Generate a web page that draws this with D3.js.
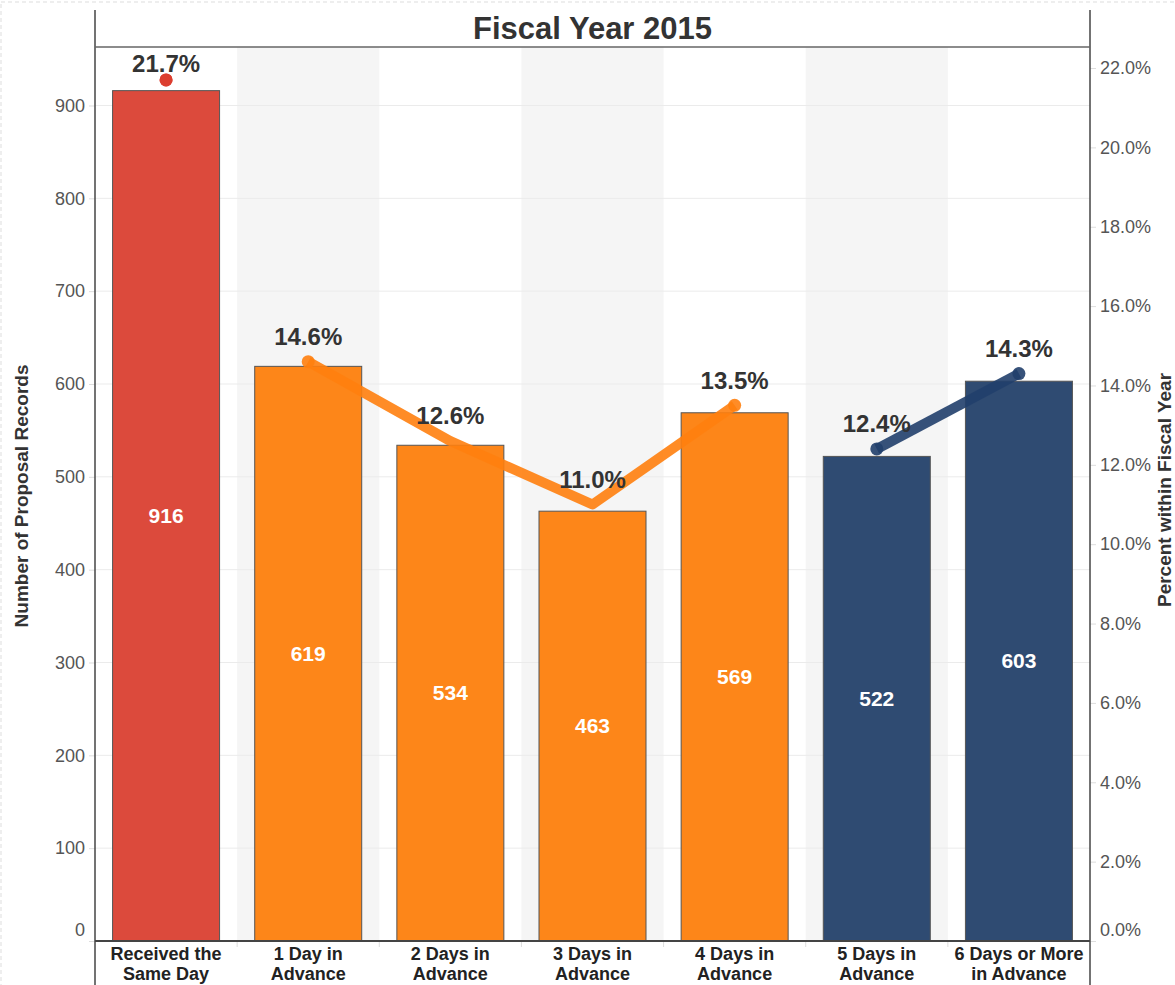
<!DOCTYPE html>
<html>
<head>
<meta charset="utf-8">
<script src="https://cdn.jsdelivr.net/npm/d3@7"></script>
<style>
  body { margin: 0; background: #fff; }
  text { font-family: "Liberation Sans", Arial, sans-serif; }
</style>
</head>
<body>
<svg id="chart" width="1175" height="985"></svg>
<script>
// data
let categories = ["Received the|Same Day", "1 Day in|Advance", "2 Days in|Advance", "3 Days in|Advance",
                  "4 Days in|Advance", "5 Days in|Advance", "6 Days or More|in Advance"];
let counts = [916, 619, 534, 463, 569, 522, 603];
let percents = [21.7, 14.6, 12.6, 11.0, 13.5, 12.4, 14.3];
let groups = ["same", "early", "early", "early", "early", "late", "late"];
let countTicks = [0, 100, 200, 300, 400, 500, 600, 700, 800, 900];
let pctTicks = [0, 2, 4, 6, 8, 10, 12, 14, 16, 18, 20, 22];

let barColors = { same: "#dc4a3c", early: "#fd8619", late: "#2f4b72" };
let lineColors = { same: "#dc3c2e", early: "#ff7f0e", late: "#213f6b" };
let textColor = "#333";

let plotLeft = 95, plotRight = 1090, plotTop = 47, plotBottom = 941;
let svg = d3.select("#chart");

// dashed frame
svg.append("rect")
  .attr("x", 1).attr("y", 2).attr("width", 1180).attr("height", 1000)
  .style("fill", "none").style("stroke", "#ddd").style("stroke-dasharray", "4,3");

let x = d3.scaleBand().domain(d3.range(categories.length)).range([plotLeft, plotRight]).paddingInner(0).paddingOuter(0);
let yCount = d3.scaleLinear().domain([0, 963]).range([plotBottom, plotTop]);
let yPct = d3.scaleLinear().domain([0, 22.53]).range([plotBottom, plotTop]);

// alternating bands
svg.selectAll(".band")
  .data(d3.range(categories.length).filter(function(i) { return i % 2 == 1; }))
  .enter().append("rect")
  .attr("x", function(i) { return x(i); })
  .attr("y", plotTop)
  .attr("width", x.bandwidth())
  .attr("height", plotBottom - plotTop)
  .style("fill", "#f5f5f5");

// gridlines
svg.selectAll(".grid")
  .data(countTicks.filter(function(d) { return d > 0; }))
  .enter().append("line")
  .attr("x1", plotLeft).attr("x2", plotRight)
  .attr("y1", function(d) { return yCount(d); })
  .attr("y2", function(d) { return yCount(d); })
  .style("stroke", "#ebebeb").style("stroke-width", 1);

// bars
let barW = 107;
svg.selectAll(".bar")
  .data(counts)
  .enter().append("rect")
  .attr("x", function(d, i) { return x(i) + x.bandwidth() / 2 - barW / 2; })
  .attr("y", function(d) { return yCount(d); })
  .attr("width", barW)
  .attr("height", function(d) { return plotBottom - yCount(d); })
  .style("fill", function(d, i) { return barColors[groups[i]]; })
  .style("stroke", "#555")
  .style("stroke-width", 1);

// count labels
svg.selectAll(".countLabel")
  .data(counts)
  .enter().append("text")
  .attr("x", function(d, i) { return x(i) + x.bandwidth() / 2; })
  .attr("y", function(d) { return (yCount(d) + plotBottom) / 2; })
  .attr("dy", "0.35em")
  .text(function(d) { return d; })
  .style("fill", "#fff")
  .style("font-weight", "bold")
  .style("font-size", "21px")
  .style("text-anchor", "middle");

// percent lines per group
let cx = function(i) { return x(i) + x.bandwidth() / 2; };
["same", "early", "late"].forEach(function(g) {
  let idx = d3.range(percents.length).filter(function(i) { return groups[i] == g; });
  if (idx.length > 1) {
    svg.append("path")
      .datum(idx)
      .attr("d", d3.line().x(function(i) { return cx(i); }).y(function(i) { return yPct(percents[i]); }))
      .style("fill", "none")
      .style("stroke", lineColors[g])
      .style("stroke-width", 10)
      .style("stroke-linejoin", "round")
      .style("opacity", 0.9);
  }
  svg.selectAll(".dot_" + g)
    .data([idx[0], idx[idx.length - 1]])
    .enter().append("circle")
    .attr("cx", function(i) { return cx(i); })
    .attr("cy", function(i) { return yPct(percents[i]); })
    .attr("r", 6.5)
    .style("fill", lineColors[g])
    .style("opacity", 0.9);
});

// percent labels
svg.selectAll(".pctLabel")
  .data(percents)
  .enter().append("text")
  .attr("x", function(d, i) { return cx(i); })
  .attr("y", function(d) { return Math.max(yPct(d) - 25, 64); })
  .attr("dy", "0.35em")
  .text(function(d) { return d.toFixed(1) + "%"; })
  .style("fill", textColor)
  .style("font-weight", "bold")
  .style("font-size", "24px")
  .style("text-anchor", "middle");

// left axis
let leftAxis = svg.append("g")
  .attr("transform", "translate(" + plotLeft + ",0)")
  .call(d3.axisLeft(yCount).tickValues(countTicks).tickSize(6).tickPadding(4));
leftAxis.select(".domain").remove();
leftAxis.selectAll(".tick line").style("stroke", "#ddd");
leftAxis.selectAll(".tick text")
  .style("font-size", "18px").style("fill", "#555")
  .attr("dy", function(d) { return d == 0 ? "-0.3em" : "0.32em"; });

// right axis
let rightAxis = svg.append("g")
  .attr("transform", "translate(" + plotRight + ",0)")
  .call(d3.axisRight(yPct).tickValues(pctTicks).tickSize(6).tickPadding(4)
    .tickFormat(function(d) { return d.toFixed(1) + "%"; }));
rightAxis.select(".domain").remove();
rightAxis.selectAll(".tick line").style("stroke", "#ddd");
rightAxis.selectAll(".tick text")
  .style("font-size", "18px").style("fill", "#555")
  .attr("dy", function(d) { return d == 0 ? "-0.3em" : "0.32em"; });

// category separators below axis
svg.selectAll(".sep")
  .data(d3.range(1, categories.length))
  .enter().append("line")
  .attr("x1", function(i) { return x(i); }).attr("x2", function(i) { return x(i); })
  .attr("y1", plotBottom).attr("y2", plotBottom + 6)
  .style("stroke", "#ddd");

// category labels
svg.selectAll(".catLabel")
  .data(categories)
  .enter().append("text")
  .attr("x", function(d, i) { return cx(i); })
  .attr("y", 960)
  .style("fill", "#222")
  .style("font-weight", "bold")
  .style("font-size", "18px")
  .style("text-anchor", "middle")
  .each(function(d) {
    let parts = d.split("|");
    let t = d3.select(this);
    parts.forEach(function(p, k) {
      t.append("tspan").attr("x", t.attr("x")).attr("dy", k == 0 ? 0 : 20).text(p);
    });
  });

// frame lines
svg.append("line").attr("x1", plotLeft).attr("x2", plotLeft).attr("y1", 10).attr("y2", 985)
  .style("stroke", "#444").style("stroke-width", 1.5);
svg.append("line").attr("x1", plotRight).attr("x2", plotRight).attr("y1", 10).attr("y2", 985)
  .style("stroke", "#444").style("stroke-width", 1.5);
svg.append("line").attr("x1", plotLeft).attr("x2", plotRight).attr("y1", plotTop).attr("y2", plotTop)
  .style("stroke", "#666").style("stroke-width", 1.5);
svg.append("line").attr("x1", plotLeft).attr("x2", plotRight).attr("y1", plotBottom).attr("y2", plotBottom)
  .style("stroke", "#444").style("stroke-width", 2);

// title
svg.append("text")
  .attr("x", (plotLeft + plotRight) / 2)
  .attr("y", 28)
  .attr("dy", "0.35em")
  .text("Fiscal Year 2015")
  .style("fill", textColor)
  .style("font-weight", "bold")
  .style("font-size", "31px")
  .style("text-anchor", "middle");

// axis titles
svg.append("text")
  .attr("transform", "translate(21,496) rotate(-90)")
  .attr("dy", "0.35em")
  .text("Number of Proposal Records")
  .style("fill", textColor)
  .style("font-weight", "bold")
  .style("font-size", "19px")
  .style("text-anchor", "middle");
svg.append("text")
  .attr("transform", "translate(1164,490) rotate(-90)")
  .attr("dy", "0.35em")
  .text("Percent within Fiscal Year")
  .style("fill", textColor)
  .style("font-weight", "bold")
  .style("font-size", "19px")
  .style("text-anchor", "middle");
</script>
</body>
</html>
